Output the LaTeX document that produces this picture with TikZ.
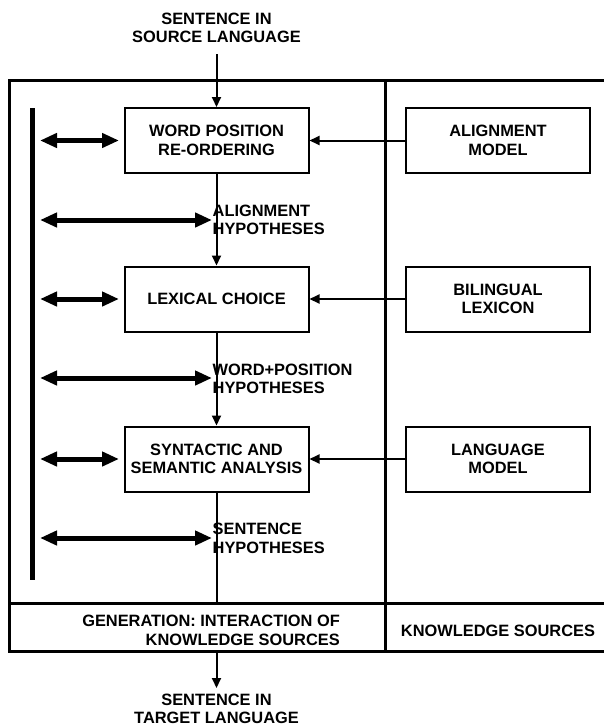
\documentclass[tikz,border=0pt]{standalone}
\usepackage{fontspec}
\setmainfont{Liberation Sans}
\usetikzlibrary{arrows.meta}
\begin{document}
\begin{tikzpicture}[x=1pt,y=-1pt,
  every node/.style={font=\bfseries\fontsize{16.4}{18.5}\selectfont, inner sep=0pt},
  procbox/.style={draw, line width=2pt, minimum width=184pt, minimum height=65pt, align=center},
  flow/.style={line width=2pt, -{Triangle[length=10pt,width=9pt]}},
  plainline/.style={line width=2pt},
  bigdbl/.style={line width=5pt, {Triangle[length=17pt,width=14pt]}-{Triangle[length=17pt,width=14pt]}},
  frameline/.style={line width=3pt},
  barline/.style={line width=5.5pt},
  lbl/.style={anchor=west, align=left},
  iotext/.style={align=center}]
\useasboundingbox (0,0) rectangle (603,726);

% frame
\draw[frameline] (9.5,80.7) rectangle (615,651);
\draw[frameline] (9.5,603) -- (615,603);
\draw[frameline] (385,80.7) -- (385,651);

% input / output texts
\node[iotext] (src) at (216.5,28) {SENTENCE IN\\SOURCE LANGUAGE};
\node[iotext] (tgt) at (216.5,709) {SENTENCE IN\\TARGET LANGUAGE};

% process boxes
\node[procbox] (wpr) at (216.5,140.5) {WORD POSITION\\RE-ORDERING};
\node[procbox] (lex) at (216.5,299) {LEXICAL CHOICE};
\node[procbox] (syn) at (216.5,459) {SYNTACTIC AND\\SEMANTIC ANALYSIS};

% knowledge source boxes
\node[procbox] (alm) at (498,140.5) {ALIGNMENT\\MODEL};
\node[procbox] (bil) at (498,299) {BILINGUAL\\LEXICON};
\node[procbox] (lam) at (498,459) {LANGUAGE\\MODEL};

% bottom labels
\node[anchor=east, align=right] (gen) at (340,630.5) {GENERATION: INTERACTION OF\\KNOWLEDGE SOURCES};
\node (ks) at (498,630.5) {KNOWLEDGE SOURCES};

% coordinates
\coordinate (inend) at (216.5,54);
\coordinate (gentop) at (216.5,603);
\coordinate (genbot) at (216.5,651);
\coordinate (outend) at (216.5,688);
\coordinate (bartop) at (32.7,108);
\coordinate (barbot) at (32.7,580);

% main flow
\draw[flow] (inend) -- (wpr.north);
\draw[flow] (wpr) -- (lex);
\draw[flow] (lex) -- (syn);
\draw[plainline] (syn.south) -- (gentop);
\draw[flow] (genbot) -- (outend);

% knowledge inputs
\draw[flow] (alm) -- (wpr);
\draw[flow] (bil) -- (lex);
\draw[flow] (lam) -- (syn);

% interaction bar
\draw[barline] (bartop) -- (barbot);

% double arrows
\coordinate (d1a) at (40,140.5); \coordinate (d1b) at (119,140.5);
\coordinate (d2a) at (40,220);   \coordinate (d2b) at (212,220);
\coordinate (d3a) at (40,299);   \coordinate (d3b) at (119,299);
\coordinate (d4a) at (40,378);   \coordinate (d4b) at (212,378);
\coordinate (d5a) at (40,459);   \coordinate (d5b) at (119,459);
\coordinate (d6a) at (40,538);   \coordinate (d6b) at (212,538);
\foreach \i in {1,...,6} {\draw[bigdbl] (d\i a) -- (d\i b);}

% hypothesis labels
\node[lbl] (h1) at (212.5,220) {ALIGNMENT\\HYPOTHESES};
\node[lbl] (h2) at (212.5,379) {WORD+POSITION\\HYPOTHESES};
\node[lbl] (h3) at (212.5,538.5) {SENTENCE\\HYPOTHESES};
\end{tikzpicture}
\end{document}
